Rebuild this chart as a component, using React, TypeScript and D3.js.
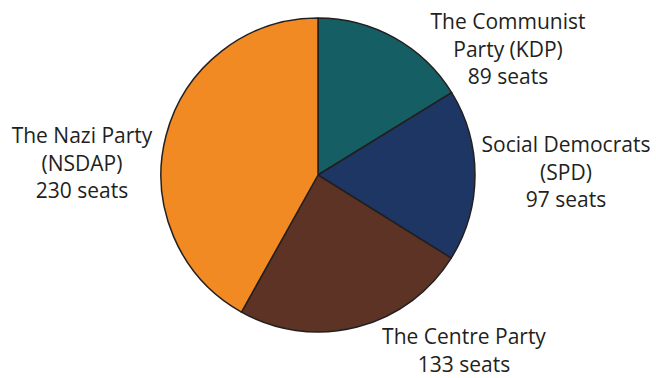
import React from "react";
import * as d3 from "d3";

const parties = ["The Communist Party (KDP)", "Social Democrats (SPD)", "The Centre Party", "The Nazi Party (NSDAP)"];
const seats = [89, 97, 133, 230];
const colors = ["#155e63", "#1e3663", "#5c3325", "#f28a24"];
const labelLines = [
  ["The Communist", "Party (KDP)", "89 seats"],
  ["Social Democrats", "(SPD)", "97 seats"],
  ["The Centre Party", "133 seats"],
  ["The Nazi Party", "(NSDAP)", "230 seats"],
];
const labelPos = [
  [508, 29, 27.5],
  [566, 152, 27.5],
  [464, 343.5, 28.5],
  [82, 143, 27.5],
];

export default function App() {
  const W = 656, H = 378;
  const cx = 318, cy = 175, r = 157;
  const pie = d3.pie<number>().sort(null).value((d) => d);
  const arcs = pie(seats);
  const arc = d3.arc<d3.PieArcDatum<number>>().innerRadius(0).outerRadius(r);
  return (
    <svg width={W} height={H} style={{ position: "absolute", left: 0, top: 0 }}>
      <rect width={W} height={H} fill="#fff" />
      <g transform={`translate(${cx},${cy})`}>
        {arcs.map((a, i) => (
          <path key={parties[i]} d={arc(a) || ""} fill={colors[i]} stroke="#231f20" strokeWidth={1.5} strokeLinejoin="round" />
        ))}
      </g>
      {labelLines.map((lines, i) => (
        <text key={i} x={labelPos[i][0]} y={labelPos[i][1]} textAnchor="middle" fontFamily="'Open Sans', sans-serif" fontSize={21} fill="#231f20">
          {lines.map((l, j) => (
            <tspan key={j} x={labelPos[i][0]} dy={j === 0 ? 0 : labelPos[i][2]}>{l}</tspan>
          ))}
        </text>
      ))}
    </svg>
  );
}
